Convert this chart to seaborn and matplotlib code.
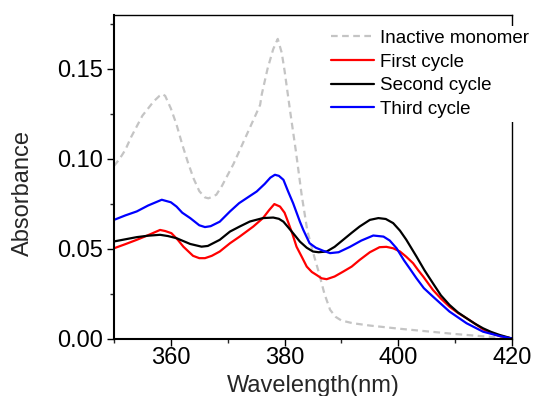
import numpy as np
import pandas as pd
import matplotlib
matplotlib.use("Agg")
import matplotlib.pyplot as plt
import seaborn as sns
from matplotlib.ticker import MultipleLocator

# ---------------- data ----------------
wl_inactive = [350, 351, 352, 353, 354, 355, 356, 357, 358, 358.5, 359, 360, 361, 362, 363, 364,
               365, 366, 366.6, 367, 368, 369, 370, 371, 372, 373, 374, 375, 375.7, 376, 377, 378,
               378.8, 379.5, 380, 381, 382, 383, 384, 385, 386, 387, 388, 389, 390, 392, 395,
               400, 405, 410, 415, 420]
abs_inactive = [0.096, 0.100, 0.105, 0.112, 0.118, 0.124, 0.128, 0.132, 0.135, 0.136, 0.135, 0.128,
                0.119, 0.108, 0.098, 0.089, 0.082, 0.0785, 0.078, 0.0785, 0.080, 0.085, 0.091,
                0.097, 0.104, 0.111, 0.118, 0.125, 0.130, 0.136, 0.150, 0.161, 0.1667, 0.159,
                0.149, 0.126, 0.104, 0.080, 0.060, 0.048, 0.037, 0.025, 0.016, 0.012, 0.010,
                0.0085, 0.0072, 0.0055, 0.004, 0.0025, 0.0012, 0.0]

wl_first = [350, 352, 354, 356, 358.1, 359, 360.1, 361.2, 362.2, 363.9, 365, 366, 367.2, 368.6,
            370.4, 372.1, 374.5, 376.2, 377.3, 378.2, 379.2, 380, 380.6, 381.4, 382.1, 383, 383.9,
            384.8, 385.6, 386.5, 387.4, 388.8, 390.3, 391.8, 393.2, 395, 396.7, 397.9, 399.1,
            400.3, 401.4, 402.6, 403.5, 404.4, 406.1, 407.5, 409, 410.5, 412, 413.5, 414.9,
            416.3, 417.8, 420]
abs_first = [0.0502, 0.0525, 0.0549, 0.0575, 0.0604, 0.0598, 0.0586, 0.055, 0.0511, 0.046, 0.0447,
             0.0447, 0.046, 0.0484, 0.053, 0.0567, 0.0623, 0.067, 0.0715, 0.0748, 0.0734, 0.070,
             0.065, 0.058, 0.0511, 0.0456, 0.040, 0.037, 0.0354, 0.0335, 0.033, 0.0345, 0.0372,
             0.040, 0.0437, 0.048, 0.0508, 0.051, 0.0502, 0.0484, 0.0455, 0.0419, 0.038, 0.0344,
             0.027, 0.0222, 0.0177, 0.0142, 0.0113, 0.0082, 0.0051, 0.003, 0.0014, 0.0]

wl_second = [350, 352, 354, 356, 358.1, 359.5, 361, 363.4, 365.4, 366.5, 368.6, 370.4, 372.1,
             373.9, 376.2, 378, 379, 379.8, 380.6, 381.5, 382.7, 383.9, 385, 386, 387.4, 388.8,
             390.3, 391.8, 393.2, 395, 396.5, 397.8, 399.1, 400.3, 401.4, 403.2, 404.6, 406.1,
             407.5, 409, 410.5, 412, 413.5, 414.9, 416.3, 417.8, 420]
abs_second = [0.054, 0.0552, 0.0564, 0.0572, 0.0577, 0.057, 0.0558, 0.0526, 0.0511, 0.0515, 0.0549,
              0.0595, 0.0623, 0.0651, 0.067, 0.0673, 0.0666, 0.065, 0.062, 0.0586, 0.0539, 0.0505,
              0.0484, 0.048, 0.0484, 0.051, 0.0549, 0.0588, 0.0623, 0.066, 0.067, 0.0665, 0.0642,
              0.060, 0.055, 0.0456, 0.038, 0.0307, 0.024, 0.0187, 0.0145, 0.0113, 0.0082, 0.0057,
              0.0037, 0.002, 0.0]

wl_third = [350, 352, 354, 356, 358.4, 360, 361, 362, 363.4, 365, 366, 367, 368.6, 370.4, 372, 374,
            375.1, 376.5, 377.5, 378.3, 379, 379.8, 380.6, 381.5, 382.7, 383.3, 384.4, 385.5,
            386.8, 388, 389.5, 391.5, 393.5, 395.6, 397.4, 398.5, 399.7, 401, 402, 403.2, 404.5,
            406.1, 409, 412, 414.9, 417.8, 420]
abs_third = [0.066, 0.0685, 0.0707, 0.074, 0.0772, 0.0758, 0.0734, 0.070, 0.067, 0.063, 0.062,
             0.0625, 0.065, 0.0707, 0.0753, 0.0795, 0.0818, 0.086, 0.0895, 0.0911, 0.0905, 0.0883,
             0.082, 0.0753, 0.065, 0.0604, 0.053, 0.0505, 0.0488, 0.0475, 0.048, 0.051, 0.0545,
             0.0573, 0.0567, 0.0545, 0.0502, 0.0435, 0.039, 0.0335, 0.028, 0.0233, 0.015, 0.0085,
             0.0038, 0.0014, 0.0]

labels = ["Inactive monomer", "First cycle", "Second cycle", "Third cycle"]
colors = ["#c4c4c4", "#ff0000", "#000000", "#0000ff"]
x_ticks = [360, 380, 400, 420]
y_ticks = [0.00, 0.05, 0.10, 0.15]

# ---------------- plotting ----------------
sns.set_style("ticks")
plt.rcParams["font.family"] = ["Liberation Sans", "DejaVu Sans"]

fig = plt.figure(figsize=(5.34, 3.96), dpi=100)
ax = fig.add_axes([114 / 534, 1 - 338.5 / 396, 398 / 534, 323.5 / 396])

series = [(wl_inactive, abs_inactive), (wl_first, abs_first),
          (wl_second, abs_second), (wl_third, abs_third)]
for (wl, ab), lab, col in zip(series, labels, colors):
    df = pd.DataFrame({"Wavelength": wl, "Absorbance": ab})
    ls = (0, (3, 2)) if lab == "Inactive monomer" else "-"
    sns.lineplot(data=df, x="Wavelength", y="Absorbance", ax=ax, color=col,
                 linewidth=1.6, linestyle=ls, label=lab, sort=False, estimator=None)

ax.set_xlim(350, 420)
ax.set_ylim(0, 0.18)
ax.set_xticks(x_ticks)
ax.set_yticks(y_ticks)
ax.xaxis.set_minor_locator(MultipleLocator(10))
ax.yaxis.set_minor_locator(MultipleLocator(0.025))
ax.set_yticklabels([f"{v:.2f}" for v in y_ticks])
ax.tick_params(axis="both", which="major", direction="out", length=5, width=1,
               labelsize=17, colors="black")
ax.tick_params(axis="x", which="major", pad=1)
ax.tick_params(axis="y", which="major", pad=3)
ax.tick_params(axis="both", which="minor", direction="out", length=3, width=1)

for side in ["left", "bottom"]:
    ax.spines[side].set_linewidth(1.5)
for side in ["top", "right"]:
    ax.spines[side].set_visible(True)
    ax.spines[side].set_linewidth(1.0)
for s in ax.spines.values():
    s.set_color("black")

ax.set_xlabel("Wavelength(nm)", fontsize=17, labelpad=4.5)
ax.set_ylabel("Absorbance", fontsize=17)
ax.yaxis.set_label_coords(-0.2, 0.45)

leg = ax.legend(loc="upper left", bbox_to_anchor=(0.535, 0.966), borderaxespad=0,
                frameon=True, fancybox=False, facecolor="white", edgecolor="none",
                framealpha=1, fontsize=13.5, handlelength=2.3, handletextpad=0.32,
                labelspacing=0.35, borderpad=0.2)
leg.set_zorder(5)
for t in leg.get_texts():
    t.set_color("black")

fig.savefig("out.png", dpi=100)
